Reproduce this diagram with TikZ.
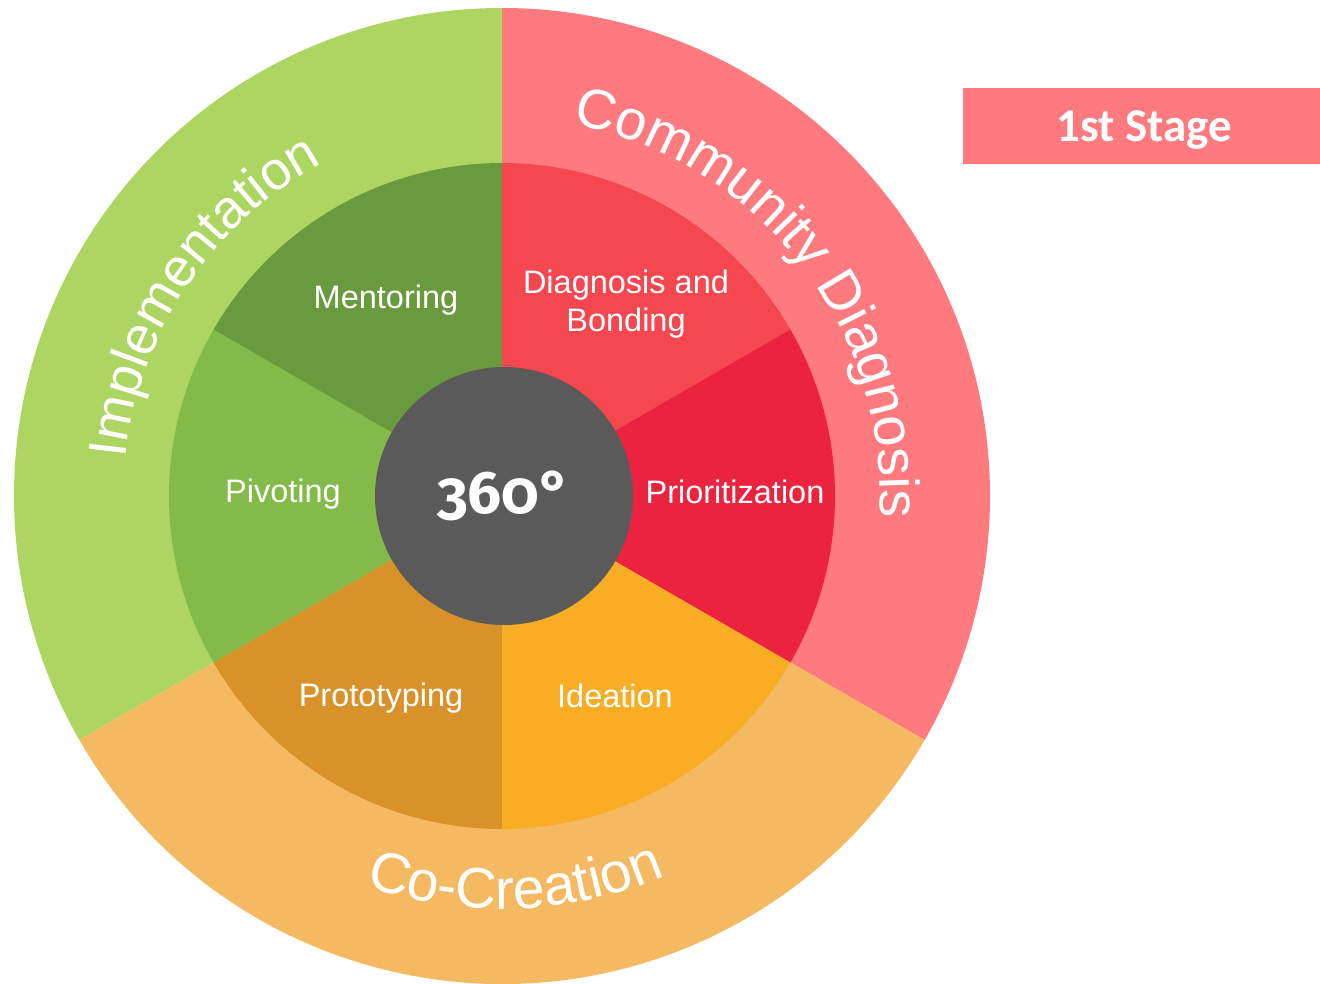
\documentclass[tikz,border=0pt]{standalone}
\usepackage{fontspec}
\usetikzlibrary{decorations.text}
\newfontfamily\lsans{Liberation Sans}
\newfontfamily\carl{Carlito}
\newfontfamily\firaold[Numbers=OldStyle]{Fira Sans}
\definecolor{outred}{HTML}{FF7A7F}
\definecolor{outgreen}{HTML}{ADD562}
\definecolor{outorange}{HTML}{F5B961}
\definecolor{cdiag}{HTML}{F54750}
\definecolor{cprio}{HTML}{EC233F}
\definecolor{cidea}{HTML}{F8AD24}
\definecolor{cproto}{HTML}{D9922A}
\definecolor{cpivot}{HTML}{83BA49}
\definecolor{cment}{HTML}{6A9A3E}
\definecolor{ccenter}{HTML}{5A5A5A}
\tikzset{
  innerlabel/.style={text=white, font=\lsans\fontsize{32.5}{38}\selectfont, align=center, inner sep=0pt},
  stagebox/.style={fill=outred, draw=none, minimum width=357pt, minimum height=76pt, inner sep=0pt},
  ringtext/.style 2 args={decorate, decoration={text along path, text color=white, text align=center,
    text={|\lsans\fontsize{#1}{#1}\selectfont|#2}}},
}
\begin{document}
\begin{tikzpicture}[x=1pt,y=1pt]
\useasboundingbox (-502,-487) rectangle (818,496);
% outer ring sectors
\fill[outred] (0,0) -- (90:488) arc[start angle=90, end angle=-30, radius=488] -- cycle;
\fill[outgreen] (0,0) -- (90:488) arc[start angle=90, end angle=210, radius=488] -- cycle;
\fill[outorange] (0,0) -- (210:488) arc[start angle=210, end angle=330, radius=488] -- cycle;
% inner ring sectors
\fill[cdiag] (0,0) -- (90:333) arc[start angle=90, end angle=30, radius=333] -- cycle;
\fill[cprio] (0,0) -- (30:333) arc[start angle=30, end angle=-30, radius=333] -- cycle;
\fill[cidea] (0,0) -- (-30:333) arc[start angle=-30, end angle=-90, radius=333] -- cycle;
\fill[cproto] (0,0) -- (-90:333) arc[start angle=-90, end angle=-150, radius=333] -- cycle;
\fill[cpivot] (0,0) -- (210:333) arc[start angle=210, end angle=150, radius=333] -- cycle;
\fill[cment] (0,0) -- (150:333) arc[start angle=150, end angle=90, radius=333] -- cycle;
% centre
\node[circle, fill=ccenter, minimum size=258pt, inner sep=0pt] (hub) at (2,0) {};
\node[text=white, font=\firaold\bfseries\fontsize{60}{60}\selectfont, anchor=base, inner sep=0pt] (deg) at (2,-17) {360°};
% curved outer labels
\path[ringtext={56}{Community Diagnosis}]
  (100:378) arc[start angle=100, end angle=-24, radius=378];
\path[ringtext={54}{Implementation}]
  (186.3:378) arc[start angle=186.3, end angle=106.3, radius=378];
\path[ringtext={57}{Co-Creation}]
  (230:413) arc[start angle=230, end angle=314, radius=413];
% inner labels
\node[innerlabel] (ment) at (-116,196) {Mentoring};
\node[innerlabel] (diag) at (124,192) {Diagnosis and\\Bonding};
\node[innerlabel] (pivot) at (-219,2) {Pivoting};
\node[innerlabel] (prio) at (233,4) {Prioritization};
\node[innerlabel] (proto) at (-121,-202) {Prototyping};
\node[innerlabel] (idea) at (113,-200) {Ideation};
% stage box
\node[stagebox] (stage) at (639.5,370) {};
\node[text=white, font=\carl\bfseries\fontsize{47}{47}\selectfont, inner sep=0pt] (stagetext) at (642,366) {1st Stage};
\end{tikzpicture}
\end{document}
